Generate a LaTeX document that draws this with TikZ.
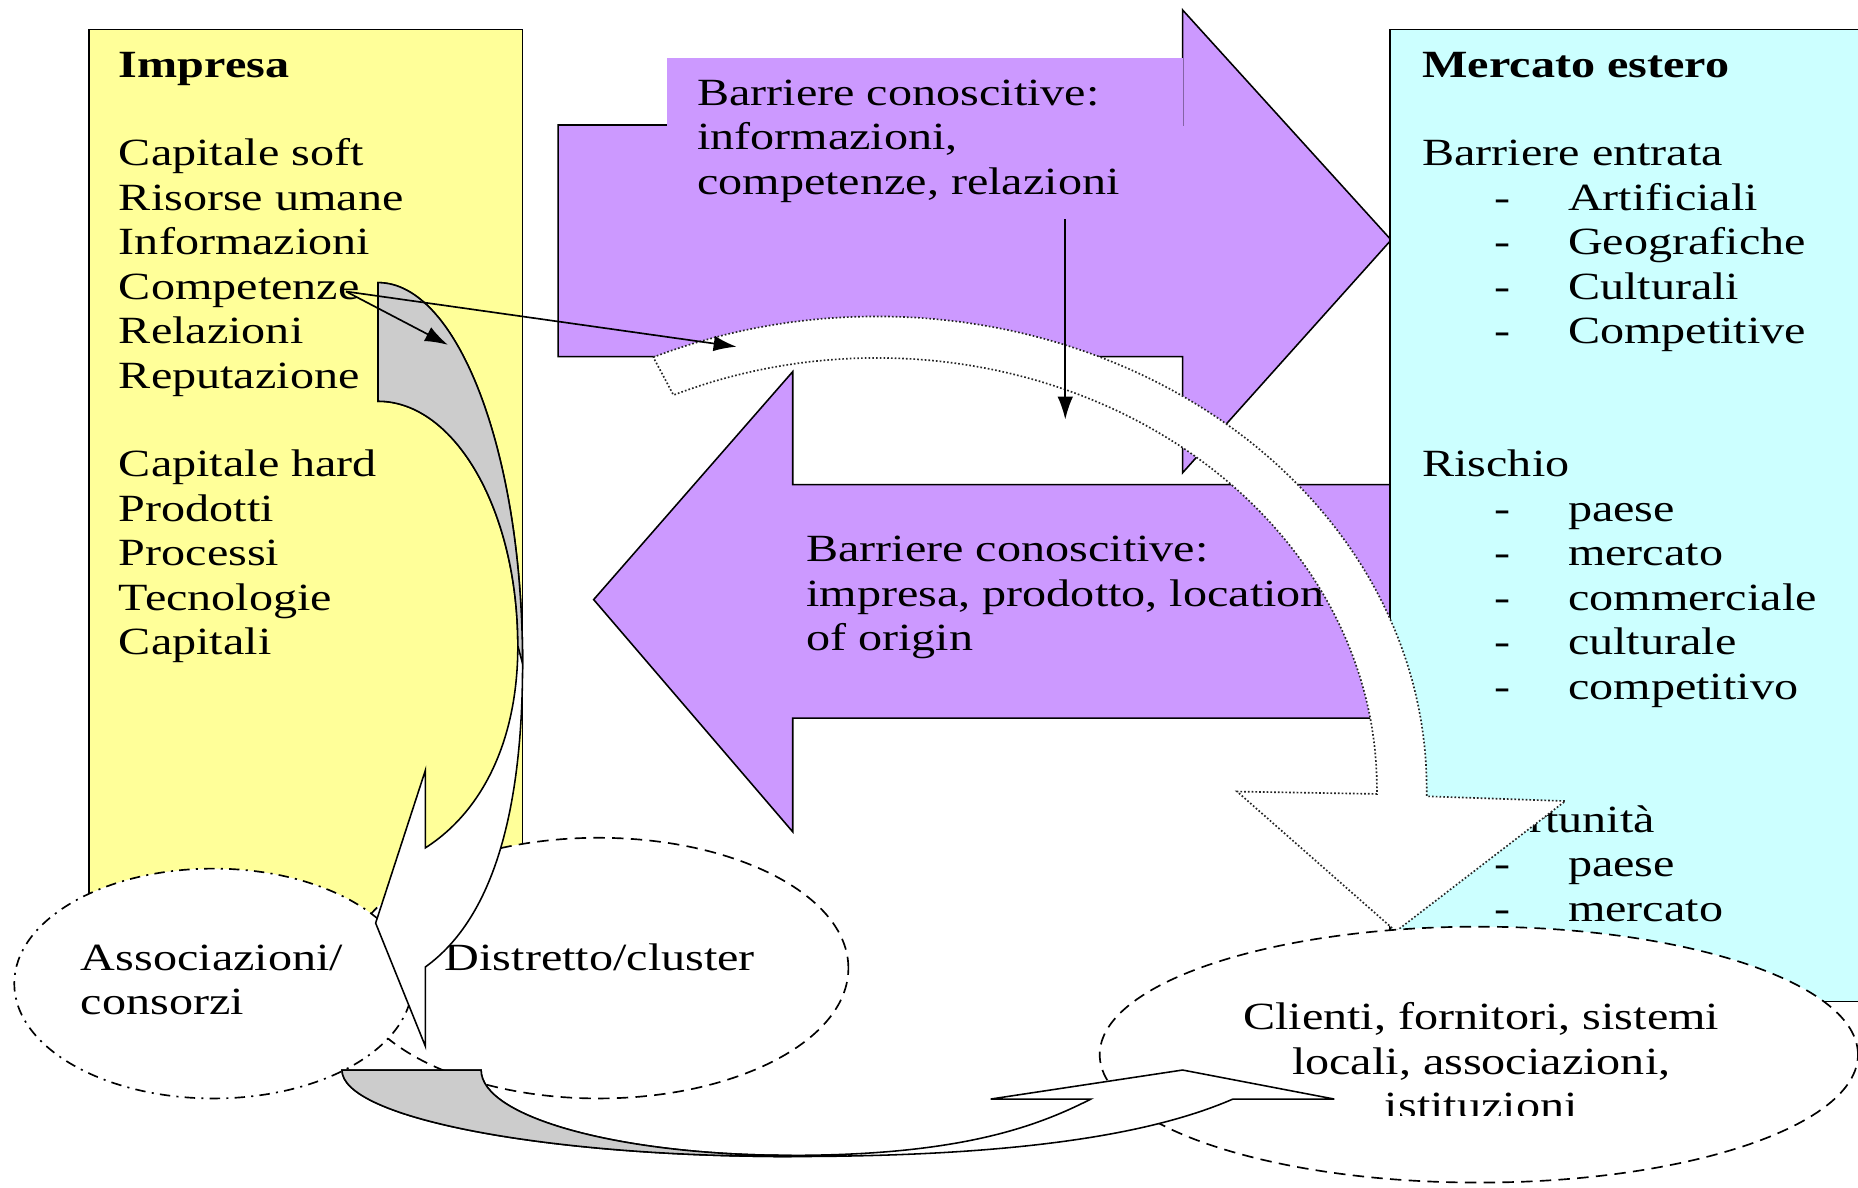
\documentclass[tikz,border=0pt]{standalone}
\usepackage{fontspec}
\setmainfont[FakeStretch=1.25]{Liberation Serif}
\usetikzlibrary{arrows.meta}
\definecolor{yel}{HTML}{FFFF99}
\definecolor{cya}{HTML}{CCFFFF}
\definecolor{pur}{HTML}{CC99FF}
\definecolor{gry}{HTML}{CCCCCC}
\newcommand\dfs{\fontsize{18.5}{21.4}\selectfont}
\begin{document}
\begin{tikzpicture}[x=0.02cm,y=-0.02cm,
  txt/.style={anchor=base west,inner sep=0pt,font=\dfs},
  ctxt/.style={anchor=base,inner sep=0pt,font=\dfs},
  outl/.style={draw=black,line width=0.75pt,line join=miter},
  dotl/.style={draw=black!85,line width=0.8pt,dash pattern=on 0.8pt off 1pt},
  thinarrow/.style={draw=black,line width=0.8pt,-{Latex[length=11pt,width=7.5pt]}},
  dashe/.style={draw=black,line width=0.8pt,dash pattern=on 5.5pt off 3.5pt},
  dashdote/.style={draw=black,line width=0.8pt,dash pattern=on 5pt off 3pt on 1pt off 3pt},
]
\useasboundingbox (0,0) rectangle (1568,1002);
\clip (0,0) rectangle (1568,1002);

% ---------- Impresa box ----------
\path[fill=yel,outl] (75,25) rectangle (441,790);
\node[txt,font=\dfs\bfseries] (impT) at (100,65) {Impresa};
\foreach \k/\t in {2/Capitale soft,3/Risorse umane,4/Informazioni,5/Competenze,6/Relazioni,7/Reputazione,9/Capitale hard,10/Prodotti,11/Processi,12/Tecnologie,13/Capitali}
  \node[txt] (imp\k) at (100,{65+37.5*\k}) {\t};

% ---------- purple arrows ----------
\path[fill=pur,outl] (471,105.5) -- (998,105.5) -- (998,8.4) -- (1174,202.5) -- (998,399) -- (998,301) -- (471,301) -- cycle;
\fill[pur] (563,49) rectangle (998,170);
\node[txt] (ub1) at (588,89) {Barriere conoscitive:};
\node[txt] (ub2) at (588,126.5) {informazioni,};
\node[txt] (ub3) at (588,164) {competenze, relazioni};

\path[fill=pur,outl] (1185,409) -- (669,409) -- (669,313.6) -- (501,506) -- (669,702) -- (669,606) -- (1185,606) -- cycle;

% ---------- Mercato estero box ----------
\path[fill=cya,outl] (1173,25) rectangle (1600,845);
\node[txt,font=\dfs\bfseries] (merT) at (1200,65) {Mercato estero};
\node[txt] (mer2) at (1200,{65+37.5*2}) {Barriere entrata};
\node[txt] (mer9) at (1200,{65+37.5*9}) {Rischio};
\node[txt] (mer17) at (1200,{65+37.5*17}) {Opportunità};
\foreach \k/\t in {3/Artificiali,4/Geografiche,5/Culturali,6/Competitive,10/paese,11/mercato,12/commerciale,13/culturale,14/competitivo,18/paese,19/mercato} {
  \node[txt] (merd\k) at (1261,{65+37.5*\k}) {-};
  \node[txt] (meri\k) at (1323,{65+37.5*\k}) {\t};
}

\node[txt] (lb1) at (680,474) {Barriere conoscitive:};
\node[txt] (lb2) at (680,511.5) {impresa, prodotto, location};
\node[txt] (lb3) at (680,549) {of origin};

% ---------- big white curved arrow ----------
\path[fill=white,dotl]
  plot[domain=-114:0,samples=70] ({740+464*cos(\x)},{665+398*sin(\x)})
  -- (1204,672) -- (1321,676) -- (1178,786) -- (1044,668) -- (1162,670)
  -- plot[domain=0:-114,samples=70] ({740+422*cos(\x)},{665+363*sin(\x)})
  -- cycle;

% ---------- ellipses ----------
\path[fill=white,dashe] (505,817) ellipse [x radius=4.22cm,y radius=2.2cm];
\path[fill=white,dashdote] (180,830) ellipse [x radius=3.36cm,y radius=1.94cm];
\path[fill=white,dashe] (1248,890) ellipse [x radius=6.4cm,y radius=2.16cm];

\node[txt] (ass1) at (68,819) {Associazioni/};
\node[txt] (ass2) at (68,856.5) {consorzi};
\node[txt] (dis) at (375,819) {Distretto/cluster};
\node[ctxt] (cli1) at (1250,869) {Clienti, fornitori, sistemi};
\node[ctxt] (cli2) at (1250,906.5) {locali, associazioni,};
\begin{scope}
  \clip (1100,915) rectangle (1400,941);
  \node[ctxt] (cli3) at (1250,944) {istituzioni};
\end{scope}

% ---------- left curved arrow ----------
\path[fill=white,outl]
  (319,238.5) .. controls (386.4,238.5) and (441,382.5) .. (441,560)
  .. controls (441,680) and (418,773.5) .. (359,816)
  -- (359,883) -- (317,779) -- (359,650) -- (359,715.5)
  .. controls (407,684.8) and (437,625) .. (437,545)
  .. controls (437,431) and (384,338.6) .. (319,338.6) -- cycle;
\path[fill=gry,outl]
  (319,238.5) .. controls (386.4,238.5) and (441,382.5) .. (441,560)
  -- (437,545) .. controls (437,431) and (384,338.6) .. (319,338.6) -- cycle;

% ---------- bottom curved arrow ----------
\path[fill=white,outl]
  (288.6,903) .. controls (288.6,943) and (458,976) .. (667.5,976)
  .. controls (873.4,976) and (978.7,954.2) .. (1040.5,927.5)
  -- (1126,927.5) -- (998,903) -- (836,927.5) -- (920.6,927.5)
  .. controls (872.6,952) and (807,975) .. (667.5,975)
  .. controls (523,975) and (406,942.7) .. (406,903) -- cycle;
\path[fill=gry,outl]
  (288.6,903) .. controls (288.6,943) and (458,976) .. (667.5,976)
  -- (667.5,975) .. controls (523,975) and (406,942.7) .. (406,903) -- cycle;

% ---------- thin arrows ----------
\coordinate (comp) at (292,246);
\coordinate (tailW) at (621.6,292.6);
\coordinate (intoG) at (378,291);
\coordinate (vaTop) at (899,185);
\coordinate (vaBot) at (899,354);
\draw[thinarrow] (comp) -- (tailW);
\draw[thinarrow] (comp) -- (intoG);
\draw[thinarrow] (vaTop) -- (vaBot);
\end{tikzpicture}
\end{document}
